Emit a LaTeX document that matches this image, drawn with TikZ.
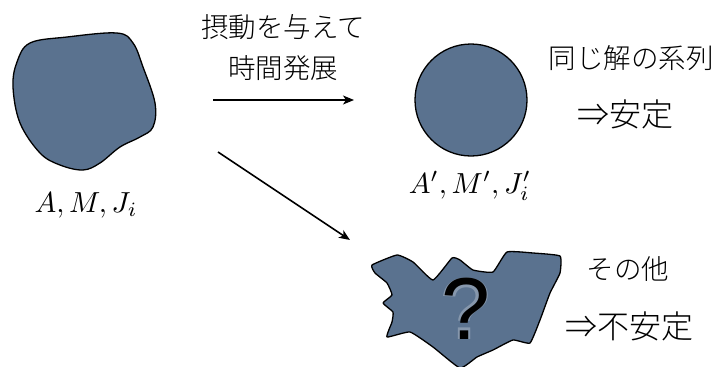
\documentclass[tikz,border=0pt]{standalone}
\usepackage{fontspec}
\newfontfamily\jp{Noto Sans CJK JP Light}
\newfontfamily\qfont{Liberation Sans}
\usetikzlibrary{arrows.meta}
\definecolor{blobfill}{RGB}{90,114,143}
\tikzset{
  blob/.style={fill=blobfill, draw=black, line width=1.3pt, line join=round},
  jptext/.style={font=\jp\fontsize{27.5}{32}\selectfont, inner sep=0pt, align=center},
  jpbig/.style={font=\jp\fontsize{32}{36}\selectfont, inner sep=0pt, align=center},
  mathlbl/.style={font=\normalsize, scale=2.9, inner sep=0pt},
  arr/.style={line width=1.6pt, -{Stealth[length=11pt,width=9pt,inset=3pt]}}
}
\begin{document}
\begin{tikzpicture}[x=1pt,y=-1pt]
\useasboundingbox (0,0) rectangle (718,367);
% left blob
\draw[blob] plot[smooth cycle, tension=0.6] coordinates {
 (30,43) (67,37) (117,33) (133,43) (143,67) (155,103) (153,127) (140,137)
 (120,147) (100,163) (83,170) (60,165) (40,153) (20,123) (13,87) (17,62)};
\node[mathlbl] (lbl1) at (86,205) {$A, M, J_i$};
% circle
\node[blob, circle, minimum size=112pt, inner sep=0pt] (circ) at (471,100) {};
\node[mathlbl] (lbl2) at (470,186) {$A', M', J_i'$};
% top text
\node[jptext] (t1) at (283,27) {摂動を与えて};
\node[jptext] (t2) at (283,68) {時間発展};
\coordinate (a1s) at (213,100);
\coordinate (a1e) at (354,100);
\draw[arr] (a1s) -- (a1e);
\coordinate (a2s) at (218,152);
\coordinate (a2e) at (350,240);
\draw[arr] (a2s) -- (a2e);
% right texts
\node[jptext] (s1) at (631,58) {同じ解の系列};
\node[jpbig, anchor=east] (s2) at (674,114) {⇒安定};
\node[jptext] (u1) at (628,269) {その他};
\node[jpbig, anchor=east] (u2) at (694,326) {⇒不安定};
% bottom blob
\draw[blob] plot[smooth cycle, tension=0.25] coordinates {
 (372,265) (397,255) (413,262) (433,280) (452,258) (460,260) (473,270)
 (493,272) (507,252) (533,253) (560,256) (560,273) (550,293) (540,320)
 (530,343) (513,340) (493,350) (477,357) (460,368) (433,347) (410,332)
 (387,337) (392,322) (393,312) (383,303) (392,295) (387,283) (375,273)};
\foreach \o in {0.12,0.1,0.08}{
  \node[font=\qfont\fontsize{88}{96}\selectfont, text=white, opacity=\o, inner sep=0pt] at (466,309) {\textbf{?}};
}
\node[font=\qfont\fontsize{88}{96}\selectfont, inner sep=0pt] (q) at (466,309) {?};
\end{tikzpicture}
\end{document}
